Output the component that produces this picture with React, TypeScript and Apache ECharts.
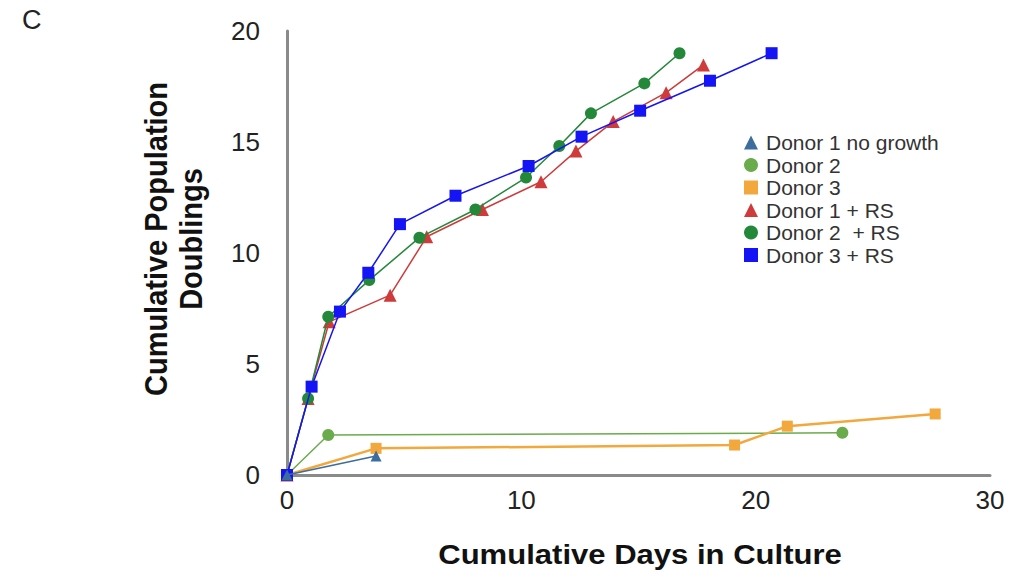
import React, { useEffect, useRef } from "react";
import * as echarts from "echarts";

const seriesNames = [
  "Donor 1 no growth",
  "Donor 2",
  "Donor 3",
  "Donor 1 + RS",
  "Donor 2  + RS",
  "Donor 3 + RS",
];

const donor1NoGrowth: [number, number][] = [[0, 0], [3.8, 0.86]];
const donor2: [number, number][] = [[0, 0], [1.76, 1.8], [23.7, 1.9]];
const donor3: [number, number][] = [[0, 0], [3.8, 1.2], [19.1, 1.35], [21.35, 2.2], [27.66, 2.75]];
const donor1RS: [number, number][] = [
  [0, 0], [0.9, 3.45], [1.8, 6.9], [4.4, 8.1], [5.96, 10.73], [8.34, 11.96],
  [10.84, 13.21], [12.33, 14.59], [13.92, 15.92], [16.18, 17.22], [17.77, 18.47],
];
const donor2RS: [number, number][] = [
  [0, 0], [0.9, 3.45], [1.76, 7.13], [3.51, 8.78], [5.65, 10.69], [8.04, 11.96],
  [10.2, 13.4], [11.62, 14.82], [12.97, 16.29], [15.25, 17.64], [16.75, 19.0],
];
const donor3RS: [number, number][] = [
  [0, 0], [1.05, 3.98], [2.26, 7.36], [3.47, 9.11], [4.82, 11.3], [7.19, 12.58],
  [10.31, 13.92], [12.57, 15.24], [15.07, 16.41], [18.05, 17.76], [20.68, 19.0],
];

const xTicks = [0, 10, 20, 30];
const yTicks = [0, 5, 10, 15, 20];

const colors = ["#3d6d9e", "#6aab4c", "#f2a83c", "#cf3a3a", "#23883a", "#1414f5"];
const symbols = ["triangle", "circle", "rect", "triangle", "circle", "rect"];
const widths = [1.5, 1.5, 2.5, 1.5, 1.5, 1.5];
const sizes = [11, 12, 11, 13, 12, 12];

export default function App() {
  const ref = useRef<HTMLDivElement>(null);
  useEffect(() => {
    if (!ref.current) return;
    const chart = echarts.init(ref.current, null, { renderer: "svg" });
    const datasets = [donor1NoGrowth, donor2, donor3, donor1RS, donor2RS, donor3RS];
    const font = "Liberation Sans, Arial, sans-serif";
    chart.setOption({
      animation: false,
      backgroundColor: "#ffffff",
      textStyle: { fontFamily: font },
      grid: { left: 287, right: 27, top: 31, bottom: 105, containLabel: false },
      xAxis: {
        type: "value",
        min: xTicks[0],
        max: xTicks[xTicks.length - 1],
        interval: 10,
        axisLine: { show: true, lineStyle: { color: "#8a8a8a", width: 3 } },
        axisTick: { show: false },
        splitLine: { show: false },
        axisLabel: { color: "#222", fontSize: 26, margin: 12, fontFamily: font },
      },
      yAxis: {
        type: "value",
        min: yTicks[0],
        max: yTicks[yTicks.length - 1],
        interval: 5,
        axisLine: { show: true, lineStyle: { color: "#8a8a8a", width: 3 } },
        axisTick: { show: false },
        splitLine: { show: false },
        axisLabel: { color: "#222", fontSize: 26, margin: 27, fontFamily: font },
      },
      legend: {
        orient: "vertical",
        left: 739,
        top: 127,
        itemGap: 1.5,
        itemWidth: 14,
        itemHeight: 14,
        textStyle: { fontSize: 21, lineHeight: 21, color: "#333", fontFamily: font, padding: [0, 0, 0, 3] },
        data: seriesNames.map((n, i) => ({ name: n, icon: symbols[i] })),
      },
      graphic: [
        { type: "text", left: 22, top: 6, style: { text: "C", fontSize: 27, fill: "#222", fontFamily: font } },
        {
          type: "text",
          x: 640,
          y: 555,
          scaleX: 1.15,
          style: {
            text: "Cumulative Days in Culture",
            fontSize: 27,
            fontWeight: "bold",
            fill: "#111",
            fontFamily: font,
            align: "center",
            verticalAlign: "middle",
          },
        },
        {
          type: "text",
          x: 173,
          y: 239,
          rotation: Math.PI / 2,
          scaleY: 1.1,
          style: {
            text: "Cumulative Population\nDoublings",
            fontSize: 29,
            fontWeight: "bold",
            fill: "#111",
            fontFamily: font,
            align: "center",
            verticalAlign: "middle",
            lineHeight: 32,
          },
        },
      ],
      series: datasets.map((d, i) => ({
        name: seriesNames[i],
        type: "line",
        data: d,
        symbol: symbols[i],
        symbolSize: sizes[i],
        showSymbol: true,
        lineStyle: { color: colors[i], width: widths[i] },
        itemStyle: { color: colors[i] },
        z: i === 0 ? 10 : 2 + i,
      })),
    });
    return () => chart.dispose();
  }, []);
  return <div ref={ref} style={{ position: "fixed", left: 0, top: 0, width: 1017, height: 580 }} />;
}
